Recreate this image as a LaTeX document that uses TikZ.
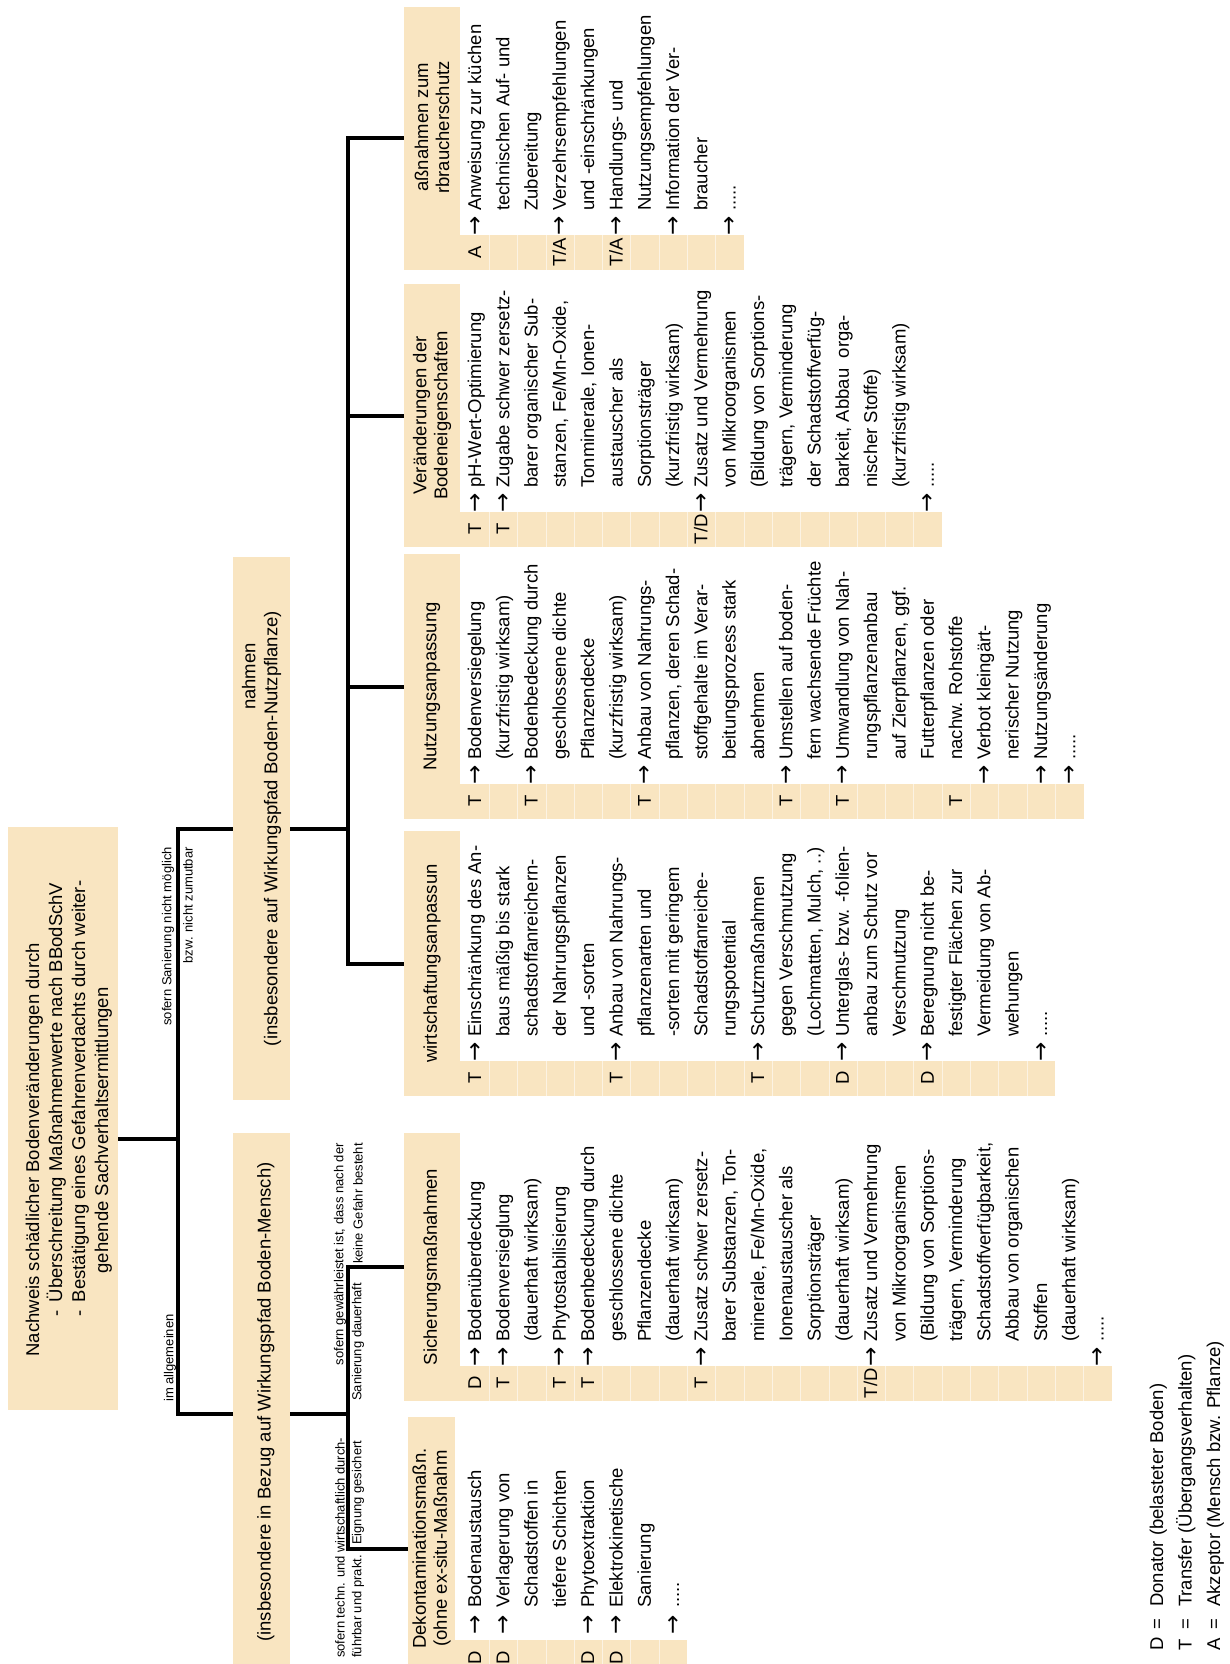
\documentclass[tikz,border=0pt]{standalone}
\usepackage{fontspec}
\setmainfont{Liberation Sans}
\newfontfamily\arrowfont{DejaVu Sans}
\usepackage{array}
\definecolor{tanc}{RGB}{249,229,193}
\tikzset{
  box/.style={rectangle, fill=tanc, rotate=90, inner sep=0pt, align=center,
              font=\fontsize{18.5}{22}\selectfont},
  head/.style={box, minimum height=56pt, font=\fontsize{18.5}{21}\selectfont},
  rows/.style={rotate=90, inner sep=0pt, font=\fontsize{18.5}{28.3}\selectfont},
  keyrows/.style={rotate=90, inner sep=0pt, font=\fontsize{18.5}{28.5}\selectfont},
  lbl/.style={rotate=90, inner sep=0pt, font=\fontsize{13}{15}\selectfont},
  conn/.style={line width=4pt},
  sep/.style={draw=tanc!45!white, line width=0.8pt},
}
\newcommand{\pf}{\makebox[15pt]{\arrowfont\fontsize{23}{23}\selectfont\raisebox{-1pt}{→}}}
% letter | arrow | text, one row per line
\newcommand{\rowtab}[3]{\begin{tabular}{@{}>{\centering\arraybackslash}p{35pt}@{\hspace{#1}}>{\centering\arraybackslash}p{15pt}@{\hspace{#2}}l@{}}#3\end{tabular}}
% tan strip behind the letters: left x, top y, bottom y, rows
\newcommand{\strip}[4]{%
  \fill[tanc] (#1,#2) rectangle ({461+#4*28.3},#3);
  \foreach \k in {2,...,#4} \draw[sep] ({461+(\k-1)*28.3},#2) -- ({461+(\k-1)*28.3},#3);}

\begin{document}
\begin{tikzpicture}[x=1pt, y=-1pt]
  \useasboundingbox (0,0) rectangle (1229,1664);
  \clip (0,0) rectangle (1229,1664);

  \node[box, minimum width=583pt, minimum height=110pt, align=left,
        font=\fontsize{18.5}{23}\selectfont] (title) at (63,1118.5)
    {\rule{0pt}{25pt}Nachweis schädlicher Bodenveränderungen durch\\
     \hspace*{40pt}-\hspace*{8pt}Überschreitung Maßnahmenwerte nach BBodSchV\\
     \hspace*{40pt}-\hspace*{8pt}Bestätigung eines Gefahrenverdachts durch weiter-\\
     \hspace*{83pt}gehende Sachverhaltsermittlungen};

  \node[box, minimum width=543pt, minimum height=57pt] (nutz) at (261.5,828.5)
    {\hspace*{304pt}nahmen\\(insbesondere auf Wirkungspfad Boden-Nutzpflanze)};
  \node[box, minimum width=562pt, minimum height=57pt] (mensch) at (261.5,1414)
    {\mbox{}\\\hspace*{24pt}(insbesondere in Bezug auf Wirkungspfad Boden-Mensch)};

  \node[head, minimum width=263pt] (vsh) at (432,138.5)
    {\hspace*{22pt}aßnahmen zum\\\hspace*{22pt}rbraucherschutz};
  \node[head, minimum width=263pt] (vbh) at (432,415.5) {Veränderungen der\\Bodeneigenschaften};
  \node[head, minimum width=265pt] (nah) at (432,686.5) {Nutzungsanpassung};
  \node[head, minimum width=265pt] (bah) at (432,963.5) {wirtschaftungsanpassun};
  \node[head, minimum width=268pt] (smh) at (432,1267) {Sicherungsmaßnahmen};
  \node[head, minimum width=263pt, minimum height=47pt] (dkh) at (431.5,1548.5)
    {Dekontaminationsmaßn.\\(ohne ex-situ-Maßnahm};

  \strip{460}{235}{270}{10}
  \strip{460}{512}{547}{17}
  \strip{460}{784}{819}{22}
  \strip{460}{1061}{1096}{21}
  \strip{460}{1366}{1401}{23}
  \strip{455}{1640}{1680}{8}

  \node[rows, anchor=north west] (vsb) at (461,270) {\rowtab{1pt}{8pt}{
    A & \pf & Anweisung zur küchen \\
      &     & technischen Auf- und \\
      &     & Zubereitung \\
    T/A & \pf & Verzehrsempfehlungen \\
      &     & und -einschränkungen \\
    T/A & \pf & Handlungs- und \\
      &     & Nutzungsempfehlungen \\
      & \pf & Information der Ver- \\
      &     & braucher \\
      & \pf & .....}};

  \node[rows, anchor=north west] (vbb) at (461,547) {\rowtab{1pt}{8pt}{
    T & \pf & pH-Wert-Optimierung \\
    T & \pf & Zugabe schwer zersetz- \\
      &     & barer organischer Sub- \\
      &     & stanzen, Fe/Mn-Oxide, \\
      &     & Tonminerale, Ionen- \\
      &     & austauscher als \\
      &     & Sorptionsträger \\
      &     & (kurzfristig wirksam) \\
    T/D & \pf & Zusatz und Vermehrung \\
      &     & von Mikroorganismen \\
      &     & (Bildung von Sorptions- \\
      &     & trägern, Verminderung \\
      &     & der Schadstoffverfüg- \\
      &     & barkeit, Abbau\ \ orga- \\
      &     & nischer Stoffe) \\
      &     & (kurzfristig wirksam) \\
      & \pf & .....}};

  \node[rows, anchor=north west] (nab) at (461,819) {\rowtab{1pt}{8pt}{
    T & \pf & Bodenversiegelung \\
      &     & (kurzfristig wirksam) \\
    T & \pf & Bodenbedeckung durch \\
      &     & geschlossene dichte \\
      &     & Pflanzendecke \\
      &     & (kurzfristig wirksam) \\
    T & \pf & Anbau von Nahrungs- \\
      &     & pflanzen, deren Schad- \\
      &     & stoffgehalte im Verar- \\
      &     & beitungsprozess stark \\
      &     & abnehmen \\
    T & \pf & Umstellen auf boden- \\
      &     & fern wachsende Früchte \\
    T & \pf & Umwandlung von Nah- \\
      &     & rungspflanzenanbau \\
      &     & auf Zierpflanzen, ggf. \\
      &     & Futterpflanzen oder \\
    T &     & nachw. Rohstoffe \\
      & \pf & Verbot kleingärt- \\
      &     & nerischer Nutzung \\
      & \pf & Nutzungsänderung \\
      & \pf & .....}};

  \node[rows, anchor=north west] (bab) at (461,1096) {\rowtab{1pt}{8pt}{
    T & \pf & Einschränkung des An- \\
      &     & baus mäßig bis stark \\
      &     & schadstoffanreichern- \\
      &     & der Nahrungspflanzen \\
      &     & und -sorten \\
    T & \pf & Anbau von Nahrungs- \\
      &     & pflanzenarten und \\
      &     & -sorten mit geringem \\
      &     & Schadstoffanreiche- \\
      &     & rungspotential \\
    T & \pf & Schutzmaßnahmen \\
      &     & gegen Verschmutzung \\
      &     & (Lochmatten, Mulch, ..) \\
    D & \pf & Unterglas- bzw. -folien- \\
      &     & anbau zum Schutz vor \\
      &     & Verschmutzung \\
    D & \pf & Beregnung nicht be- \\
      &     & festigter Flächen zur \\
      &     & Vermeidung von Ab- \\
      &     & wehungen \\
      & \pf & .....}};

  \node[rows, anchor=north west] (smb) at (461,1401) {\rowtab{1pt}{8pt}{
    D & \pf & Bodenüberdeckung \\
    T & \pf & Bodenversieglung \\
      &     & (dauerhaft wirksam) \\
    T & \pf & Phytostabilisierung \\
    T & \pf & Bodenbedeckung durch \\
      &     & geschlossene dichte \\
      &     & Pflanzendecke \\
      &     & (dauerhaft wirksam) \\
    T & \pf & Zusatz schwer zersetz- \\
      &     & barer Substanzen, Ton- \\
      &     & minerale, Fe/Mn-Oxide, \\
      &     & Ionenaustauscher als \\
      &     & Sorptionsträger \\
      &     & (dauerhaft wirksam) \\
    T/D & \pf & Zusatz und Vermehrung \\
      &     & von Mikroorganismen \\
      &     & (Bildung von Sorptions- \\
      &     & trägern, Verminderung \\
      &     & Schadstoffverfügbarkeit, \\
      &     & Abbau von organischen \\
      &     & Stoffen \\
      &     & (dauerhaft wirksam) \\
      & \pf & .....}};

  \node[rows, anchor=north west] (dkb) at (461,1675) {\rowtab{7pt}{10pt}{
    D & \pf & Bodenaustausch \\
    D & \pf & Verlagerung von \\
      &     & Schadstoffen in \\
      &     & tiefere Schichten \\
    D & \pf & Phytoextraktion \\
    D & \pf & Elektrokinetische \\
      &     & Sanierung \\
      & \pf & .....}};

  % connectors
  \coordinate (j1) at (178,1139);
  \coordinate (j2) at (348,828.5);
  \coordinate (j3) at (348,1414);
  \draw[conn] (title.south |- j1) -- (j1);
  \draw[conn] (nutz.north) -| (j1) |- (mensch.north);
  \draw[conn] (nutz.south) -- (j2);
  \draw[conn] (vsh.north) -| (j2) |- (bah.north);
  \draw[conn] (vbh.north) -- (vbh.north -| j2);
  \draw[conn] (nah.north) -- (nah.north -| j2);
  \draw[conn] (mensch.south) -- (j3);
  \draw[conn] (smh.north) -| (j3) |- (dkh.north);

  \node[lbl, anchor=west] (allg) at (170,1402) {im allgemeinen};
  \node[lbl, anchor=east] (nichtm) at (168,847) {sofern Sanierung nicht möglich};
  \node[lbl, anchor=east] (zumut) at (188,847) {bzw. nicht zumutbar};
  \node[lbl, anchor=east] (gew) at (340,1143) {sofern gewährleistet ist, dass nach der};
  \node[lbl, anchor=east] (gefahr) at (358,1143) {keine Gefahr besteht};
  \node[lbl, anchor=west] (dauer) at (358,1401) {Sanierung dauerhaft};
  \node[lbl, anchor=west] (techn) at (340,1658) {sofern techn. und wirtschaftlich durch-};
  \node[lbl, anchor=west] (prakt) at (358,1658) {führbar und prakt.};
  \node[lbl, anchor=west] (eign) at (358,1545) {Eignung gesichert};

  \node[keyrows, anchor=north west] (key) at (1143,1651) {%
    \begin{tabular}{@{}p{13.4pt}@{\hspace{8pt}}c@{\hspace{11.8pt}}l@{}}
      D & = & Donator (belasteter Boden) \\
      T & = & Transfer (Übergangsverhalten) \\
      A & = & Akzeptor (Mensch bzw. Pflanze)
    \end{tabular}};

\end{tikzpicture}
\end{document}
